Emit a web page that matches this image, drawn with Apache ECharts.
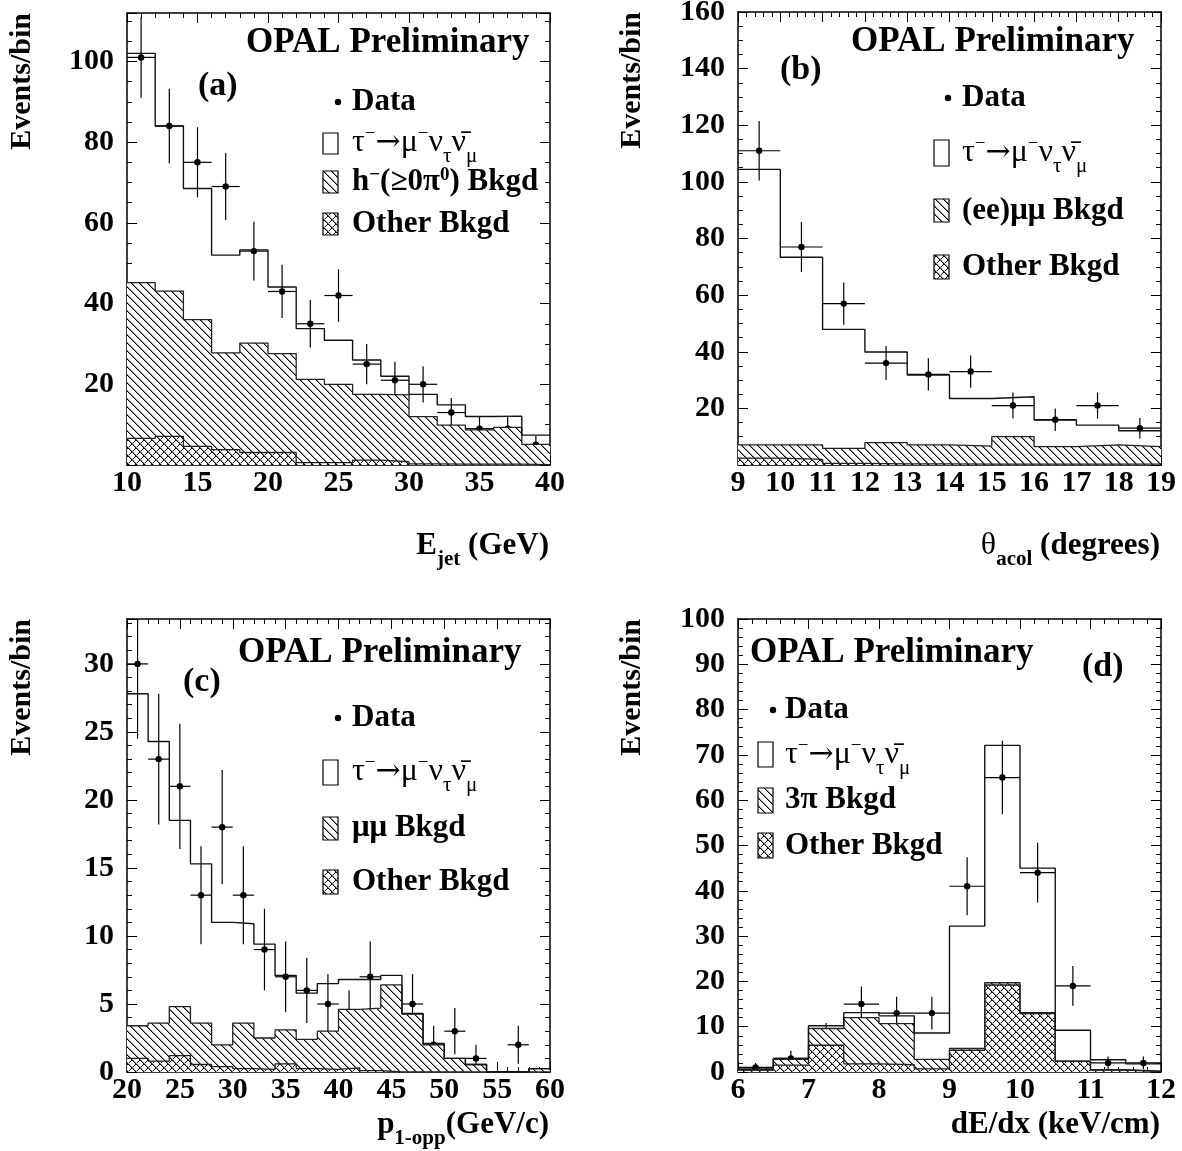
<!DOCTYPE html>
<html>
<head>
<meta charset="utf-8">
<title>OPAL Preliminary</title>
<script src="https://cdn.jsdelivr.net/npm/echarts@6/dist/echarts.min.js"></script>
<style>
html,body{margin:0;padding:0;background:#fff;}
#main{width:1182px;height:1151px;}
</style>
</head>
<body>
<div id="main"></div>
<script>
// (a) E_jet
var aEdges = [10,12,14,16,18,20,22,24,26,28,30,32,34,36,38,40];
var aTotal = [102,84,68.5,52,53.3,44.1,33.8,30.9,26,22,17.5,14.9,12,12.1,7.4];
var aBkgd  = [45.2,43.1,36,27.8,30.2,27.6,21.2,20,17.5,17.4,12,9.9,8.7,9.3,5.1];
var aOther = [6.6,7.1,4.6,3.8,3.1,3.1,0.6,0.6,1.2,0.8,0.3,0.2,0.2,0.2,0.1];
var aData  = [101,84,75,69,53,43,35,42,25,21,20,13,9,9,5];
var aErr   = [10,9.2,8.7,8.3,7.3,6.6,5.9,6.5,5,4.6,4.5,3.6,3,3,2.2];

// (b) theta_acol
var bEdges = [9,10,11,12,13,14,15,16,17,18,19];
var bTotal = [104.4,73.4,47.9,39.9,31.8,23.5,24.1,15.9,14.1,12.1];
var bBkgd  = [7.1,7.1,5.9,7.9,7.1,6.7,10,6.5,7.1,6.5];
var bOther = [2.4,2,0.6,0.4,0.4,0.3,0.3,0.3,0.3,0.3];
var bData  = [111,77,57,36,32,33,21,16,21,13];
var bErr   = [10.5,8.8,7.5,6,5.7,5.7,4.6,4,4.6,3.6];

// (c) p_1-opp
var cEdges = [20,22,24,26,28,30,32,34,36,38,40,42,44,46,48,50,52,54,56,58,60];
var cTotal = [27.8,24.3,18.5,15.3,11,10.9,9.4,7.1,5.8,6.5,6.8,6.8,7.1,4.3,2.1,1.0,0.55,0,0,0.25];
var cBkgd  = [3.4,3.6,4.8,3.6,2.0,3.6,2.5,3.1,2.4,3.0,4.6,4.7,6.4,4.25,2.0,1.0,0.55,0,0,0.25];
var cOther = [1.0,0.8,1.2,0.55,0.4,0.25,0.2,0.6,0.25,0.2,0.3,0.1,0,0,0,0,0,0,0,0];
var cData  = [30,23,21,13,18,13,9,7,6,5,4,7,4,5,2,3,1,0,2,0];
var cErr   = [5.5,4.8,4.6,3.6,4.2,3.6,3,2.6,2.4,2.2,2,2.6,2,2.2,1.4,1.7,1,0,1.4,0];

// (d) dE/dx
var dEdges = [6,6.5,7,7.5,8,8.5,9,9.5,10,10.5,11,11.5,12];
var dTotal = [0.7,3,10.2,13.1,12.4,8.6,32.2,72.1,45,9.2,2.7,1.8];
var dBkgd  = [0.5,2.8,9.6,12.0,10.7,2.8,5.2,19.7,13.1,2.4,0.5,0.2];
var dOther = [0.4,1.5,5.9,1.8,1.6,0.7,4.8,19.2,12.9,2.4,0.4,0.15];
var dData  = [1,3,8,15,13,13,41,65,44,19,2,2];
var dErr   = [1,1.7,2.8,3.9,3.6,3.6,6.4,8.1,6.6,4.4,1.4,1.4];

var FONT = 'Liberation Serif';

// pixel hatch tiles, "\" lines (and "/" too for the cross hatch)
function hatch(cross) {
  var s = 8;
  var cv = document.createElement('canvas');
  cv.width = s; cv.height = s;
  var g = cv.getContext('2d');
  g.fillStyle = '#fff';
  g.fillRect(0, 0, s, s);
  for (var i = 0; i < s; i++) {
    g.fillStyle = '#000';
    g.fillRect(i, i, 1, 1);
    if (cross) g.fillRect(s - 1 - i, i, 1, 1);
    g.fillStyle = '#888';
    g.fillRect((i + 1) % s, i, 1, 1);
  }
  return cv;
}
var single = { image: hatch(false), repeat: 'repeat' };
var cross = { image: hatch(true), repeat: 'repeat' };

function stepPts(edges, vals) {
  var p = [];
  for (var i = 0; i < vals.length; i++) p.push([edges[i], vals[i]]);
  p.push([edges[edges.length - 1], vals[vals.length - 1]]);
  return p;
}
function points(edges, vals, errs) {
  var p = [];
  for (var i = 0; i < vals.length; i++) {
    if (vals[i] > 0) p.push([(edges[i] + edges[i + 1]) / 2, vals[i], errs[i], (edges[i + 1] - edges[i]) / 2]);
  }
  return p;
}

var panels = [
  { grid: { left: 127, top: 13, width: 423, height: 452 }, x: [10, 40, 5, 5], y: [0, 112, 20, 4], hideZero: true,
    edges: aEdges, total: aTotal, bkgd: aBkgd, other: aOther, data: aData, err: aErr },
  { grid: { left: 738, top: 12, width: 423, height: 453 }, x: [9, 19, 1, 5], y: [0, 160, 20, 4], hideZero: true,
    edges: bEdges, total: bTotal, bkgd: bBkgd, other: bOther, data: bData, err: bErr },
  { grid: { left: 127, top: 619, width: 423, height: 453 }, x: [20, 60, 5, 5], y: [0, 33.3, 5, 5], hideZero: false,
    edges: cEdges, total: cTotal, bkgd: cBkgd, other: cOther, data: cData, err: cErr },
  { grid: { left: 738, top: 619, width: 423, height: 453 }, x: [6, 12, 1, 5], y: [0, 100, 10, 5], hideZero: false,
    edges: dEdges, total: dTotal, bkgd: dBkgd, other: dOther, data: dData, err: dErr }
];

var grids = [], xAxes = [], yAxes = [], series = [];

function axis(kind, k, r, pos, lab, hideZero) {
  return {
    type: 'value', gridIndex: k, position: pos, min: r[0], max: r[1], interval: r[2],
    axisLine: { show: true, onZero: false, lineStyle: { color: '#000', width: 1.5 } },
    axisTick: { show: true, inside: true, length: 10, lineStyle: { color: '#000', width: 1 } },
    minorTick: { show: true, splitNumber: r[3], length: 5, lineStyle: { color: '#000', width: 1 } },
    splitLine: { show: false },
    minorSplitLine: { show: false },
    axisLabel: {
      show: lab, color: '#000', fontFamily: FONT, fontWeight: 'bold', fontSize: 30,
      margin: kind == 'x' ? 3 : 13, showMaxLabel: r[1] % r[2] === 0,
      formatter: function (v) { return (hideZero && v === 0) ? '' : String(v); }
    }
  };
}

panels.forEach(function (p, k) {
  grids.push({ left: p.grid.left, top: p.grid.top, width: p.grid.width, height: p.grid.height, outerBoundsMode: 'none' });
  xAxes.push(axis('x', k, p.x, 'bottom', true, false));
  xAxes.push(axis('x', k, p.x, 'top', false, false));
  yAxes.push(axis('y', k, p.y, 'left', true, p.hideZero));
  yAxes.push(axis('y', k, p.y, 'right', false, false));
  var xi = 2 * k, yi = 2 * k;
  series.push({
    type: 'line', xAxisIndex: xi, yAxisIndex: yi, step: 'end', showSymbol: false, silent: true,
    data: stepPts(p.edges, p.bkgd),
    lineStyle: { color: '#222', width: 1.3 },
    areaStyle: { color: single, opacity: 1 }
  });
  series.push({
    type: 'line', xAxisIndex: xi, yAxisIndex: yi, step: 'end', showSymbol: false, silent: true,
    data: stepPts(p.edges, p.other),
    lineStyle: { color: '#222', width: 1.3 },
    areaStyle: { color: cross, opacity: 1 }
  });
  series.push({
    type: 'line', xAxisIndex: xi, yAxisIndex: yi, step: 'end', showSymbol: false, silent: true,
    data: stepPts(p.edges, p.total),
    lineStyle: { color: '#111', width: 1.4 }
  });
  series.push({
    type: 'custom', xAxisIndex: xi, yAxisIndex: yi, clip: true, silent: true,
    data: points(p.edges, p.data, p.err),
    renderItem: function (params, api) {
      var x = api.value(0), y = api.value(1), e = api.value(2), hw = api.value(3);
      var c = api.coord([x, y]);
      var l = api.coord([x - hw, y]), r = api.coord([x + hw, y]);
      var up = api.coord([x, y + e]), dn = api.coord([x, y - e]);
      return {
        type: 'group', children: [
          { type: 'line', shape: { x1: l[0], y1: c[1], x2: r[0], y2: c[1] }, style: { stroke: '#000', lineWidth: 1.2 } },
          { type: 'line', shape: { x1: c[0], y1: up[1], x2: c[0], y2: dn[1] }, style: { stroke: '#000', lineWidth: 1.2 } },
          { type: 'circle', shape: { cx: c[0], cy: c[1], r: 3.2 }, style: { fill: '#000' } }
        ]
      };
    }
  });
});

// texts: rich styles for super/subscripts
var rich = {
  b: { fontFamily: FONT, fontWeight: 'bold', fontSize: 31, lineHeight: 48, fill: '#000' },
  m: { fontFamily: FONT, fontSize: 32, lineHeight: 48, fill: '#000' },
  a: { fontFamily: 'DejaVu Serif', fontSize: 30, lineHeight: 48, fill: '#000' },
  p: { fontFamily: FONT, fontSize: 19, lineHeight: 19, padding: [0, 0, 18, 0], fill: '#000' },
  pb: { fontFamily: FONT, fontWeight: 'bold', fontSize: 19, lineHeight: 19, padding: [0, 0, 14, 0], fill: '#000' },
  s: { fontFamily: FONT, fontSize: 21, lineHeight: 20, verticalAlign: 'bottom', fill: '#000' },
  sb: { fontFamily: FONT, fontWeight: 'bold', fontSize: 21, lineHeight: 20, verticalAlign: 'bottom', fill: '#000' }
};
var sigText = '{m|τ}{p|−}{a|→}{m|μ}{p|−}{m|ν}{s|τ}{m|ν̄}{s|μ}';

function txt(x, y, t, size, align) {
  return { type: 'text', x: x, y: y, silent: true,
    style: { text: t, rich: rich, fontFamily: FONT, fontWeight: 'bold', fontSize: size || 31,
      fill: '#000', align: align || 'left', verticalAlign: 'middle' } };
}
function box(x, y, h, fill) {
  return { type: 'rect', silent: true, shape: { x: x, y: y, width: 15, height: h },
    style: { fill: fill, stroke: '#000', lineWidth: 1.2 } };
}
function dot(x, y) {
  return { type: 'circle', silent: true, shape: { cx: x, cy: y, r: 3.2 }, style: { fill: '#000' } };
}
function ytitle(x, y) {
  return { type: 'text', x: x, y: y, rotation: Math.PI / 2, silent: true,
    style: { text: 'Events/bin', fontFamily: FONT, fontWeight: 'bold', fontSize: 30, fill: '#000',
      align: 'right', verticalAlign: 'middle' } };
}

var graphics = [
  // (a)
  txt(246, 43, 'OPAL Preliminary', 35), txt(198, 86, '(a)', 34),
  dot(338, 102), txt(352, 102, 'Data'),
  box(323, 133, 21, '#fff'), txt(352, 143, sigText),
  box(323, 171, 22, single), txt(352, 182, '{b|h}{pb|−}{b|(≥0π}{pb|0}{b|) Bkgd}'),
  box(323, 213, 22, cross), txt(352, 224, 'Other Bkgd'),
  ytitle(22, 13), txt(549, 546, '{b|E}{sb|jet}{b| (GeV)}', 31, 'right'),
  // (b)
  txt(851, 42, 'OPAL Preliminary', 35), txt(780, 70, '(b)', 34),
  dot(948, 98), txt(962, 98, 'Data'),
  box(934, 140, 26, '#fff'), txt(962, 153, sigText),
  box(934, 199, 23, single), txt(962, 211, '(ee)μμ Bkgd'),
  box(934, 255, 24, cross), txt(962, 267, 'Other Bkgd'),
  ytitle(632, 12), txt(1160, 546, '{m|θ}{sb|acol}{b| (degrees)}', 31, 'right'),
  // (c)
  txt(238, 653, 'OPAL Preliminary', 35), txt(183, 682, '(c)', 34),
  dot(338, 718), txt(352, 718, 'Data'),
  box(323, 760, 25, '#fff'), txt(352, 772, sigText),
  box(323, 817, 23, single), txt(352, 828, 'μμ Bkgd'),
  box(323, 870, 24, cross), txt(352, 882, 'Other Bkgd'),
  ytitle(22, 619), txt(549, 1125, '{b|p}{sb|1-opp}{b|(GeV/c)}', 31, 'right'),
  // (d)
  txt(750, 653, 'OPAL Preliminary', 35), txt(1082, 667, '(d)', 34),
  dot(773, 710), txt(785, 710, 'Data'),
  box(758, 742, 25, '#fff'), txt(785, 755, sigText),
  box(758, 788, 25, single), txt(785, 800, '3π Bkgd'),
  box(758, 833, 25, cross), txt(785, 846, 'Other Bkgd'),
  ytitle(632, 619), txt(1160, 1125, 'dE/dx (keV/cm)', 31, 'right')
];

var chart = echarts.init(document.getElementById('main'), null, { renderer: 'canvas' });
chart.setOption({
  backgroundColor: '#fff',
  animation: false,
  grid: grids,
  xAxis: xAxes,
  yAxis: yAxes,
  series: series,
  graphic: graphics
});
</script>
</body>
</html>
